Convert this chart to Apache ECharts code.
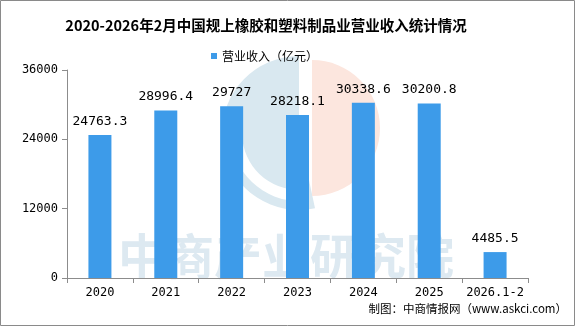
<!DOCTYPE html>
<html>
<head>
<meta charset="utf-8">
<script src="https://cdn.jsdelivr.net/npm/echarts@6/dist/echarts.min.js"></script>
<style>
  html, body { margin: 0; padding: 0; background: #fff; }
  #chart { width: 576px; height: 326px; }
</style>
</head>
<body>
<div id="chart"></div>
<script>
// Revenue of large-scale rubber & plastic products industry (100 million yuan)
const categories = ['2020', '2021', '2022', '2023', '2024', '2025', '2026.1-2'];
const revenue = [24763.3, 28996.4, 29727, 28218.1, 30338.6, 30200.8, 4485.5];
const yTicks = [0, 12000, 24000, 36000];

const titleText = '2020-2026年2月中国规上橡胶和塑料制品业营业收入统计情况';
const seriesName = '营业收入（亿元）';
const sourceText = '制图：中商情报网（www.askci.com）';
const watermarkText = '中商产业研究院';

const monoFont = '"DejaVu Sans Mono", "Noto Sans CJK SC", monospace';
const cjkFont = '"Noto Sans CJK SC", sans-serif';
const axisGray = '#8c8c8c';

const chart = echarts.init(document.getElementById('chart'), null, { renderer: 'canvas' });
const deg = Math.PI / 180;

chart.setOption({
  backgroundColor: '#fff',
  animation: false,
  title: {
    text: titleText,
    left: 261,
    top: 13,
    textAlign: 'center',
    textStyle: { fontFamily: cjkFont, fontSize: 14.5, fontWeight: 'bold', color: '#000' }
  },
  legend: {
    data: [seriesName],
    left: 206,
    top: 45,
    icon: 'rect',
    itemWidth: 6,
    itemHeight: 6,
    itemGap: 4,
    textStyle: { fontFamily: cjkFont, fontSize: 12, color: '#000' }
  },
  grid: { left: 67, right: 48, top: 70, bottom: 48, containLabel: false },
  xAxis: {
    type: 'category',
    data: categories,
    axisLine: { lineStyle: { color: axisGray, width: 1 } },
    axisTick: { show: true, length: 5, interval: 0, lineStyle: { color: axisGray } },
    axisLabel: { interval: 0, fontFamily: monoFont, fontSize: 12, color: '#000', margin: 9 }
  },
  yAxis: {
    type: 'value',
    min: yTicks[0],
    max: yTicks[yTicks.length - 1],
    interval: yTicks[1] - yTicks[0],
    axisLine: { show: true, lineStyle: { color: axisGray, width: 1 } },
    axisTick: { show: true, length: 5, lineStyle: { color: axisGray } },
    splitLine: { show: false },
    axisLabel: {
      fontFamily: monoFont, fontSize: 12, color: '#000', margin: 9,
      formatter: (v) => String(v)
    }
  },
  series: [{
    name: seriesName,
    type: 'bar',
    data: revenue,
    barWidth: 23,
    itemStyle: { color: '#3d9be9' },
    z: 5,
    label: {
      show: true,
      position: 'top',
      distance: 7,
      fontFamily: monoFont,
      fontSize: 13,
      color: '#000',
      formatter: (p) => String(p.value)
    }
  }],
  graphic: [
    // outer frame
    {
      type: 'rect', z: 100, silent: true,
      shape: { x: 0.5, y: 0.5, width: 574, height: 325 },
      style: { fill: 'none', stroke: '#8a8a8a', lineWidth: 1 }
    },
    // background logo: blue ring-like mark
    {
      type: 'sector', z: -10, silent: true,
      shape: { cx: 299, cy: 133, r: 77, r0: 0, startAngle: 78 * deg, endAngle: 270 * deg, clockwise: true },
      style: { fill: '#d9e8f0' }
    },
    {
      type: 'sector', z: -9, silent: true,
      shape: { cx: 299, cy: 133, r: 68, r0: 57, startAngle: 100 * deg, endAngle: 190 * deg, clockwise: true },
      style: { fill: '#ffffff' }
    },
    // background logo: salmon half disc
    {
      type: 'sector', z: -10, silent: true,
      shape: { cx: 312, cy: 128, r: 68, r0: 0, startAngle: -90 * deg, endAngle: 90 * deg, clockwise: true },
      style: { fill: '#fce6de' }
    },
    // background wordmark
    {
      type: 'text', z: -8, silent: true,
      left: 118, top: 232,
      style: {
        text: watermarkText,
        fontFamily: cjkFont,
        fontSize: 48,
        fontWeight: 'bold',
        fill: '#dde9f1'
      }
    },
    // source note
    {
      type: 'text', z: 50, silent: true,
      right: 9, top: 303,
      style: {
        text: sourceText,
        fontFamily: '"Noto Sans CJK SC", "DejaVu Sans Mono", sans-serif',
        fontSize: 11.5,
        fill: '#000'
      }
    }
  ]
});
</script>
</body>
</html>
